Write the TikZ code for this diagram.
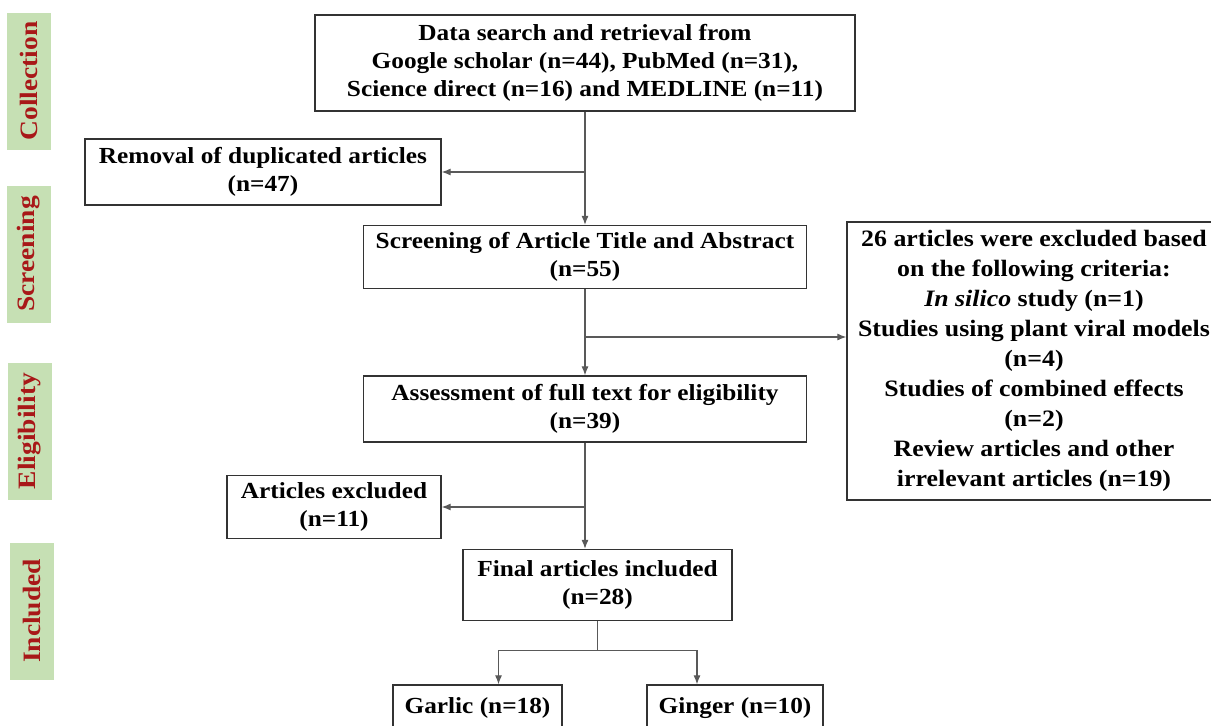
\documentclass[tikz,border=0pt]{standalone}
\usepackage{fontspec}
\setmainfont[FakeStretch=1.1]{Liberation Serif}
\usetikzlibrary{arrows.meta,positioning}
\definecolor{stagegreen}{HTML}{C6E0B4}
\definecolor{stagered}{HTML}{A81818}

\begin{document}
\begin{tikzpicture}[x=1pt,y=-1pt,
	box/.style={draw=black!80,line width=1.3pt,rectangle,align=center,inner sep=0pt,font=\fontsize{23}{28}\selectfont\bfseries},
	stage/.style={fill=stagegreen,text=stagered,rotate=90,minimum width=137pt,minimum height=44pt,inner sep=0pt,font=\fontsize{25}{28}\selectfont\bfseries},
	link/.style={draw=black!65,line width=1.1pt,-{Latex[length=9pt,width=7pt]}}]
	\useasboundingbox (0,0) rectangle (1211,726);
	% stages on the left
	\node[stage] (collect) at (29,81) {Collection};
	\node[stage] (screenlbl) at (29,254) {Screening};
	\node[stage] (eligible) at (30,431) {Eligibility};
	\node[stage] (included) at (32,611) {Included};
	% boxes
	\node[box,minimum width=540pt,minimum height=96pt] (search) at (585,63) {Data search and retrieval from\\Google scholar (n=44), PubMed (n=31),\\Science direct (n=16) and MEDLINE (n=11)};
	\node[box,minimum width=356pt,minimum height=66pt] (dup) at (263,172) {Removal of duplicated articles\\(n=47)};
	\node[box,minimum width=443pt,minimum height=63pt] (screen) at (585,257) {Screening of Article Title and Abstract\\(n=55)};
	\node[box,minimum width=374pt,minimum height=278pt,font=\fontsize{23.5}{30}\selectfont\bfseries] (excl26) at (1034,361) {26 articles were excluded based\\on the following criteria:\\\textit{In silico} study (n=1)\\Studies using plant viral models\\(n=4)\\Studies of combined effects\\(n=2)\\Review articles and other\\irrelevant articles (n=19)};
	\node[box,minimum width=443pt,minimum height=66pt] (fulltext) at (585,409) {Assessment of full text for eligibility\\(n=39)};
	\node[box,minimum width=214pt,minimum height=63pt] (excl11) at (334,507) {Articles excluded\\(n=11)};
	\node[box,minimum width=269pt,minimum height=71pt] (final) at (597.5,585) {Final articles included\\(n=28)};
	\node[box,minimum width=169pt,minimum height=46pt] (garlic) at (477.5,708) {Garlic (n=18)};
	\node[box,minimum width=176pt,minimum height=46pt] (ginger) at (735,708) {Ginger (n=10)};
	% connectors
	\draw[link] (search.south) -- (screen.north);
	\draw[link] (search.south |- dup) -- (dup.east);
	\draw[link] (screen.south) -- (fulltext.north);
	\coordinate (fork) at (585,337);
	\draw[link] (fork) -- (fork -| excl26.west);
	\draw[link] (fulltext.south) -- (fulltext.south |- final.north);
	\draw[link] (fulltext.south |- excl11) -- (excl11.east);
	\draw[draw=black!65,line width=1.1pt] (final.south) -- ++(0,29) coordinate (split);
	\draw[link] (split) -| ([xshift=21pt]garlic.north);
	\draw[link] (split) -| ([xshift=-38pt]ginger.north);
\end{tikzpicture}
\end{document}
